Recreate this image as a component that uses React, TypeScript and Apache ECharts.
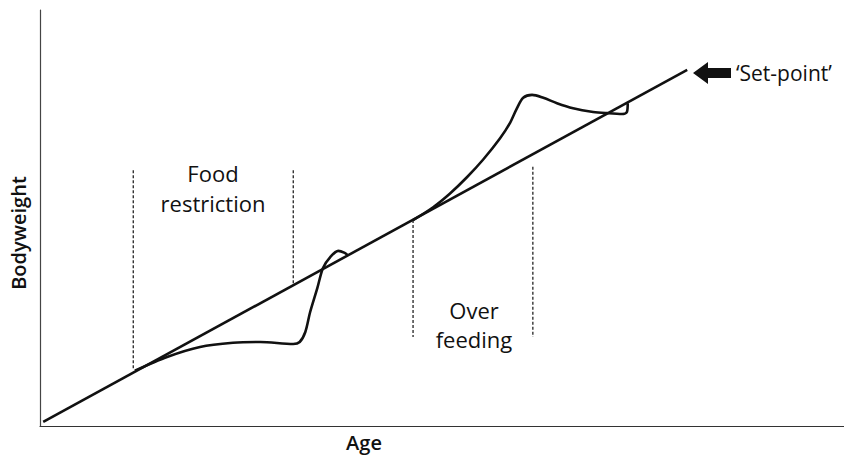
import React, { useEffect, useRef } from "react";
import * as echarts from "echarts";

// Data (age units 0–100, bodyweight units 0–100)
const setPointX = [0.4, 80.5];
const setPointY = [1.0, 85.6];

const foodX = [11.8, 15.8, 19.9, 24.0, 27.4, 31.5, 32.3, 33.0, 33.6, 34.5, 35.2, 36.1, 37.1, 37.9, 38.3];
const foodY = [13.3, 16.6, 19.0, 20.0, 20.2, 19.7, 20.2, 22.6, 27.4, 33.2, 38.0, 40.6, 42.1, 41.6, 41.0];

const overX = [46.4, 48.9, 51.0, 53.1, 55.1, 57.2, 58.5, 59.3, 60.1, 61.2, 62.6, 64.3, 66.3, 68.8, 70.5, 72.4, 73.0, 73.1];
const overY = [49.5, 52.6, 55.9, 59.8, 64.0, 69.1, 73.0, 76.3, 78.9, 79.6, 78.9, 77.6, 76.4, 75.5, 75.2, 75.0, 75.5, 77.6];

// Vertical dashed period markers: [x, yTop, yBottom]
const markerX = [11.6, 31.5, 46.4, 61.3];
const markerTop = [61.5, 61.5, 49.5, 62.3];
const markerBottom = [13.5, 34.1, 21.4, 21.4];

const xLabel = "Age";
const yLabel = "Bodyweight";
const labels = [
  { text: "Food", x: 213, y: 173 },
  { text: "restriction", x: 213, y: 203 },
  { text: "Over", x: 474, y: 310 },
  { text: "feeding", x: 474, y: 339 },
];

const zip = (xs: number[], ys: number[]) => xs.map((x, i) => [x, ys[i]]);

export default function App() {
  const ref = useRef<HTMLDivElement>(null);
  useEffect(() => {
    if (!ref.current) return;
    const chart = echarts.init(ref.current, undefined, { renderer: "svg" });
    const ink = "#111";
    const font = "'Open Sans', sans-serif";
    const series: any[] = [
      {
        type: "line",
        data: zip(setPointX, setPointY),
        symbol: "none",
        lineStyle: { color: ink, width: 2.6 },
        z: 3,
      },
      {
        type: "line",
        data: zip(foodX, foodY),
        symbol: "none",
        smooth: 0.3,
        lineStyle: { color: ink, width: 2.6 },
        z: 3,
      },
      {
        type: "line",
        data: zip(overX, overY),
        symbol: "none",
        smooth: 0.3,
        lineStyle: { color: ink, width: 2.6 },
        z: 3,
      },
    ];
    markerX.forEach((x, i) => {
      series.push({
        type: "line",
        data: [
          [x, markerTop[i]],
          [x, markerBottom[i]],
        ],
        symbol: "none",
        lineStyle: { color: "#222", width: 1.3, type: [3, 2] },
        z: 2,
      });
    });

    chart.setOption({
      animation: false,
      grid: { left: 40, right: 0, top: 10, bottom: 31 },
      xAxis: {
        type: "value",
        min: 0,
        max: 100,
        axisLine: { show: true, lineStyle: { color: "#333", width: 1.2 } },
        axisTick: { show: false },
        axisLabel: { show: false },
        splitLine: { show: false },
      },
      yAxis: {
        type: "value",
        min: 0,
        max: 100,
        axisLine: { show: true, lineStyle: { color: "#444", width: 1.2 } },
        axisTick: { show: false },
        axisLabel: { show: false },
        splitLine: { show: false },
      },
      series,
      graphic: [
        ...labels.map((l) => ({
          type: "text",
          x: l.x,
          y: l.y,
          style: {
            text: l.text,
            fill: ink,
            font: `22px ${font}`,
            textAlign: "center",
            textVerticalAlign: "middle",
          },
        })),
        {
          type: "text",
          x: 364,
          y: 442,
          style: {
            text: xLabel,
            fill: ink,
            font: `600 20px ${font}`,
            textAlign: "center",
            textVerticalAlign: "middle",
          },
        },
        {
          type: "text",
          x: 18,
          y: 233,
          rotation: Math.PI / 2,
          style: {
            text: yLabel,
            fill: ink,
            font: `600 20px ${font}`,
            textAlign: "center",
            textVerticalAlign: "middle",
          },
        },
        {
          type: "polygon",
          shape: {
            points: [
              [693, 73],
              [708, 62],
              [708, 68],
              [731, 68],
              [731, 78],
              [708, 78],
              [708, 84],
            ],
          },
          style: { fill: ink },
        },
        {
          type: "text",
          x: 736,
          y: 73,
          style: {
            text: "\u2018Set-point\u2019",
            fill: ink,
            font: `21px ${font}`,
            textAlign: "left",
            textVerticalAlign: "middle",
          },
        },
      ],
    });
    return () => chart.dispose();
  }, []);
  return <div ref={ref} style={{ width: 844, height: 457, position: "absolute", left: 0, top: 0 }} />;
}
